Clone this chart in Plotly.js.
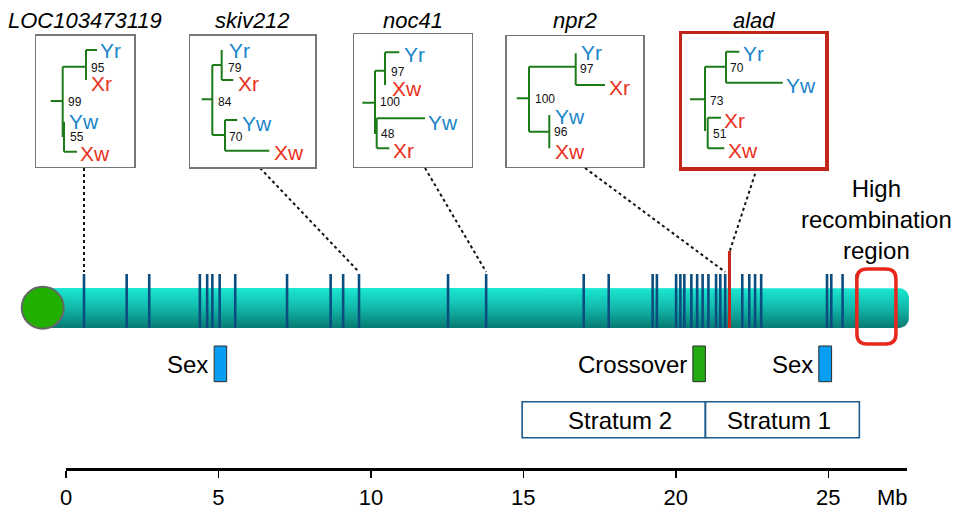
<!DOCTYPE html>
<html><head><meta charset="utf-8">
<script src="https://cdn.plot.ly/plotly-3.0.1.min.js"></script>
<style>html,body{margin:0;padding:0;background:#fff}</style>
</head><body><div id="chart" style="width:955px;height:511px"></div>
<script>
// ---------- data ----------
const MARKER_POS = [0.59, 1.99, 2.73, 4.39, 4.63, 4.80, 5.04, 5.55, 7.25, 8.68, 9.09, 9.61,
  12.53, 13.78, 16.98, 17.80, 19.24, 19.38, 20.01, 20.15, 20.28, 20.51, 20.70, 20.88, 21.07,
  21.32, 21.46, 21.62, 22.18, 22.41, 22.60, 22.80, 24.96, 25.10, 25.47, 25.93];
const HIGHLIGHT_POS = [21.76];
const GENES = ['LOC103473119', 'skiv212', 'noc41', 'npr2', 'alad'];
const GENE_POS = [0.59, 9.61, 13.78, 21.62, 21.76];
const FEATURE_LABELS = ['Sex', 'Crossover', 'Sex'];
const FEATURE_START = [4.86, 20.56, 24.69];
const FEATURE_END = [5.27, 20.97, 25.11];
const STRATA_LABELS = ['Stratum 2', 'Stratum 1'];
const STRATA_START = [14.96, 20.97];
const STRATA_END = [20.97, 26.02];
const HIGH_REC_START = 25.94, HIGH_REC_END = 27.22;
const TICK_VALUES = [0, 5, 10, 15, 20, 25];
const TICK_LABELS = ['0', '5', '10', '15', '20', '25'];

// trees: segments [x0,y0,x1,y1], tips [label,x,y], supports [value,x,y] (local box units)
const TREE_SEGS = [
  [[14.7,65.3,26.7,65.3],[26.7,31,26.7,101.3],[26.7,31,50,31],[50,14.3,50,44.3],[50,14.3,61,14.3],[28,86,28,116],[28,116,41,116]],
  [[11.7,63.6,22.3,63.6],[22.3,29.3,22.3,99.3],[22.3,29.3,31.7,29.3],[31.7,14.3,31.7,44.3],[31.7,44.3,43.3,44.3],[22.3,99.3,35,99.3],[35,84.3,35,115],[35,84.3,47.3,84.3],[35,115,79.3,115]],
  [[8,68.4,20.7,68.4],[20.7,36.4,20.7,99.7],[20.7,36.4,30.7,36.4],[30.7,18,30.7,50.7],[30.7,18,45,18],[22.4,84,22.4,114],[22.4,84,70.7,84],[22.4,114,35,114]],
  [[10,62.3,22.3,62.3],[22.3,30.7,22.3,95.7],[22.3,30.7,69,30.7],[69,17.3,69,49],[69,49,98.3,49],[22.3,95.7,42.6,95.7],[42.6,79,42.6,112.3]],
  [[8.3,65.3,23.3,65.3],[23.3,32.7,23.3,97],[23.3,32.7,44.3,32.7],[44.3,17.7,44.3,48.7],[44.3,17.7,57.6,17.7],[44.3,48.7,101,48.7],[26,83.7,26,114.3],[26,83.7,39.3,83.7],[26,114.3,42.6,114.3]]
];
const TREE_TIPS = [
  [['Yr',63,14.3],['Xr',53.5,47.3],['Yw',32,86],['Xw',43,117.3]],
  [['Yr',38,14.3],['Xr',46.7,47.3],['Yw',50.7,87.3],['Xw',82.7,117]],
  [['Yr',48.4,20],['Xw',36.7,54],['Yw',73,88.4],['Xr',37.4,115.7]],
  [['Yr',73.3,16.7],['Xr',101.6,51.3],['Yw',47.6,80],['Xw',47.6,115.7]],
  [['Yr',60,19.3],['Yw',103.3,51],['Xr',41.6,86],['Xw',45.6,116]]
];
const TREE_SUPPORT = [
  [['95',54,32.3],['99',31,66.3],['55',33,101.3]],
  [['79',36.7,32.3],['84',26.7,66],['70',38.3,101]],
  [['97',35.7,37.4],['100',24.7,67.4],['48',25.7,99.7]],
  [['97',72.6,33.3],['100',27.3,63],['96',46,96.3]],
  [['70',47.3,33.7],['73',27.6,66.7],['51',30,100]]
];

// ---------- layout geometry (pixels) ----------
const W = 955, H = 511, X0PX = 66, PXMB = 30.49, AXIS_Y = 468, RULER_END = 906.7;
const mb = px => (px - X0PX) / PXMB;
const BOXES = [ // left, top, right, bottom
  [36, 35.7, 134, 166.7], [190, 35.7, 315, 167], [354.3, 34.3, 471.7, 166.7],
  [506.7, 36, 643.3, 166.7], [681.7, 34, 825.3, 167.3]];
const CONNECT_FROM = [84, 260, 425, 585, 757];

const FONT = 'Liberation Sans, Arial, Helvetica, sans-serif';
const BLUE = '#1b86c9', RED = '#e8321e', GREEN_TREE = '#1e7b1a';

const traces = [];
const shapes = [];
const annotations = [];

// chromosome body with rounded right end
(function () {
  const left = -0.9, right = mb(909), top = 288, bottom = 328, r = 10, rx = r / PXMB;
  const xs = [left, right - rx], ys = [top, top];
  for (let i = 1; i <= 8; i++) { const t = -Math.PI / 2 + i * Math.PI / 16; xs.push(right - rx + rx * Math.cos(t)); ys.push(top + r + r * Math.sin(t)); }
  xs.push(right); ys.push(bottom - r);
  for (let i = 1; i <= 8; i++) { const t = i * Math.PI / 16; xs.push(right - rx + rx * Math.cos(t)); ys.push(bottom - r + r * Math.sin(t)); }
  xs.push(left, left); ys.push(bottom, top);
  traces.push({x: xs, y: ys, xaxis: 'x', yaxis: 'y', mode: 'lines', fill: 'toself', line: {width: 0},
    fillgradient: {type: 'vertical', colorscale: [[0, '#087a72'], [0.5, '#12b8ab'], [1, '#1be8d2']]},
    hoverinfo: 'skip', showlegend: false});
})();

// connectors
GENES.forEach((g, i) => {
  const topY = i === 4 ? 252 : 272;
  traces.push({x: [mb(CONNECT_FROM[i]), GENE_POS[i]], y: [168, topY], xaxis: 'x', yaxis: 'y', mode: 'lines',
    line: {color: '#111', width: 2, dash: '3px,3px'}, hoverinfo: 'skip', showlegend: false});
});

// centromere
traces.push({x: [mb(42.7)], y: [307.7], xaxis: 'x', yaxis: 'y', mode: 'markers',
  marker: {size: 42, color: '#22b000', line: {color: '#666', width: 2}}, hoverinfo: 'skip', showlegend: false});

// marker ticks on ruler axis
traces.push({x: MARKER_POS.flatMap(p => [p, p, null]), y: MARKER_POS.flatMap(() => [274, 328, null]),
  xaxis: 'x2', yaxis: 'y', mode: 'lines', line: {color: '#0c4d80', width: 2.6}, hoverinfo: 'skip', showlegend: false});
traces.push({x: HIGHLIGHT_POS.flatMap(p => [p, p, null]), y: HIGHLIGHT_POS.flatMap(() => [251, 328, null]),
  xaxis: 'x2', yaxis: 'y', mode: 'lines', line: {color: '#c8261a', width: 3}, hoverinfo: 'skip', showlegend: false});

// feature boxes
const FEATURE_FILL = ['#0a9ef2', '#22aa11', '#0a9ef2'];
FEATURE_LABELS.forEach((lab, i) => {
  shapes.push({type: 'rect', xref: 'x', yref: 'y', x0: FEATURE_START[i], x1: FEATURE_END[i], y0: 346, y1: 381.7,
    fillcolor: FEATURE_FILL[i], line: {color: '#2a2a2a', width: 1}});
  annotations.push({xref: 'x', yref: 'y', x: FEATURE_START[i], y: 364, text: lab, showarrow: false,
    xanchor: 'right', yanchor: 'middle', xshift: -4, font: {family: FONT, size: 24, color: '#000'}});
});
STRATA_LABELS.forEach((lab, i) => {
  shapes.push({type: 'rect', xref: 'x', yref: 'y', x0: STRATA_START[i], x1: STRATA_END[i], y0: 401.7, y1: 437.7,
    fillcolor: 'rgba(0,0,0,0)', line: {color: '#1b5a8a', width: 1.6}});
  annotations.push({xref: 'x', yref: 'y', x: (STRATA_START[i] + STRATA_END[i]) / 2 + (i === 0 ? 0.2 : -0.1), y: 420, text: lab, showarrow: false,
    xanchor: 'center', yanchor: 'middle', font: {family: FONT, size: 24, color: '#000'}});
});

// high recombination region
(function () {
  const x0 = HIGH_REC_START, x1 = HIGH_REC_END, y0 = 269, y1 = 344, r = 10, rx = r / PXMB;
  shapes.push({type: 'path', xref: 'x', yref: 'y', layer: 'above',
    path: `M${x0 + rx},${y0} L${x1 - rx},${y0} Q${x1},${y0} ${x1},${y0 + r} L${x1},${y1 - r} Q${x1},${y1} ${x1 - rx},${y1} L${x0 + rx},${y1} Q${x0},${y1} ${x0},${y1 - r} L${x0},${y0 + r} Q${x0},${y0} ${x0 + rx},${y0} Z`,
    line: {color: '#e8281c', width: 3.5}});
  annotations.push({xref: 'x', yref: 'y', x: mb(876.5), y: 219, text: 'High<br>recombination<br>region', showarrow: false,
    xanchor: 'center', yanchor: 'middle', align: 'center', font: {family: FONT, size: 24, color: '#000'}});
})();

annotations.push({xref: 'paper', yref: 'paper', x: 892 / W, y: (H - 497) / H, text: 'Mb', showarrow: false,
  xanchor: 'center', yanchor: 'middle', font: {family: FONT, size: 22, color: '#000'}});

const layout = {
  width: W, height: H, margin: {l: 0, r: 0, t: 0, b: 0}, paper_bgcolor: '#fff', plot_bgcolor: 'rgba(0,0,0,0)',
  showlegend: false, hovermode: false,
  xaxis: {domain: [0, 1], range: [-X0PX / PXMB, (W - X0PX) / PXMB], visible: false, fixedrange: true},
  yaxis: {domain: [(H - AXIS_Y) / H, 1], range: [AXIS_Y, 0], visible: false, fixedrange: true},
  xaxis2: {domain: [X0PX / W, RULER_END / W], range: [0, mb(RULER_END)], anchor: 'y', showline: true, linecolor: '#000',
    linewidth: 2.5, ticks: 'outside', ticklen: 7, tickwidth: 1.5, tickcolor: '#000', tickvals: TICK_VALUES, ticktext: TICK_LABELS,
    ticklabelstandoff: 1, tickfont: {family: FONT, size: 22, color: '#000'}, showgrid: false, zeroline: false, fixedrange: true},
  shapes: shapes, annotations: annotations
};

// inset trees
GENES.forEach((g, i) => {
  const [L, T, R, B] = BOXES[i];
  const k = i + 3, xa = 'x' + k, ya = 'y' + k;
  const isHi = i === 4;
  const axStyle = {showline: true, mirror: true, linecolor: isHi ? '#c0261a' : '#777', linewidth: isHi ? 3.2 : 1.5,
    ticks: '', showticklabels: false, showgrid: false, zeroline: false, fixedrange: true};
  layout['xaxis' + k] = Object.assign({domain: [L / W, R / W], range: [0, R - L], anchor: ya}, axStyle);
  layout['yaxis' + k] = Object.assign({domain: [(H - B) / H, (H - T) / H], range: [B - T, 0], anchor: xa}, axStyle);
  const segs = TREE_SEGS[i];
  traces.push({x: segs.flatMap(s => [s[0], s[2], null]), y: segs.flatMap(s => [s[1], s[3], null]), xaxis: xa, yaxis: ya,
    mode: 'lines', line: {color: GREEN_TREE, width: 2}, hoverinfo: 'skip', showlegend: false});
  TREE_TIPS[i].forEach(t => annotations.push({xref: xa, yref: ya, x: t[1], y: t[2], text: t[0], showarrow: false,
    xanchor: 'left', yanchor: 'middle', borderpad: 0, font: {family: FONT, size: 21, color: t[0][0] === 'Y' ? BLUE : RED}}));
  TREE_SUPPORT[i].forEach(t => annotations.push({xref: xa, yref: ya, x: t[1], y: t[2], text: t[0], showarrow: false,
    xanchor: 'left', yanchor: 'middle', borderpad: 0, font: {family: FONT, size: 12, color: '#111'}}));
  annotations.push({xref: 'paper', yref: 'paper', x: (L + R) / 2 / W, y: (H - 20) / H, text: g, showarrow: false,
    xanchor: 'center', yanchor: 'middle', font: {family: FONT, size: 22, color: '#000', style: 'italic'}});
});

Plotly.newPlot('chart', traces, layout, {displayModeBar: false, staticPlot: true});
</script></body></html>
